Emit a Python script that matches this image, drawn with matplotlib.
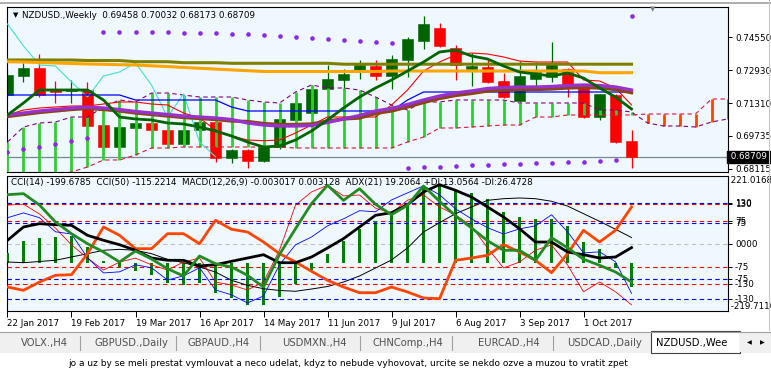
import matplotlib.pyplot as plt
import numpy as np
from matplotlib.patches import Rectangle

# weekly NZDUSD bars, first bar = 22 Jan 2017
opens = [0.71722, 0.72648, 0.73038, 0.72014, 0.71917, 0.71966, 0.70259, 0.69186, 0.70113, 0.70357,
         0.70015, 0.69333, 0.70015, 0.70405, 0.68650, 0.69040, 0.68504, 0.69186, 0.70503, 0.70844,
         0.72014, 0.72453, 0.72843, 0.73136, 0.72648, 0.73429, 0.74355, 0.74989, 0.74014, 0.72990,
         0.73087, 0.72405, 0.71429, 0.72502, 0.72600, 0.72990, 0.72063, 0.70649, 0.71722, 0.69458]
highs = [0.72941, 0.73282, 0.73721, 0.72405, 0.72453, 0.72356, 0.70357, 0.70259, 0.70454, 0.70454,
         0.70113, 0.70113, 0.70503, 0.70454, 0.69089, 0.69089, 0.69235, 0.70600, 0.71478, 0.72209,
         0.73185, 0.72990, 0.73429, 0.73429, 0.73672, 0.74550, 0.75574, 0.75233, 0.74160, 0.73770,
         0.73429, 0.72795, 0.73380, 0.73331, 0.74306, 0.73038, 0.72112, 0.71771, 0.71771, 0.70032]
lows = [0.71624, 0.72356, 0.71624, 0.71332, 0.71332, 0.70162, 0.69137, 0.69137, 0.70015, 0.69967,
        0.69284, 0.69235, 0.69918, 0.68455, 0.68406, 0.68162, 0.68455, 0.69089, 0.70454, 0.70795,
        0.71966, 0.71966, 0.72502, 0.72453, 0.72014, 0.72600, 0.73965, 0.74062, 0.72453, 0.72161,
        0.72307, 0.71576, 0.71380, 0.71966, 0.72356, 0.71624, 0.70600, 0.70503, 0.69381, 0.68173]
closes = [0.72697, 0.73038, 0.71722, 0.71868, 0.72014, 0.70210, 0.69186, 0.70162, 0.70357, 0.70015,
          0.69333, 0.70015, 0.70405, 0.68650, 0.69040, 0.68504, 0.69186, 0.70552, 0.71332, 0.72014,
          0.72502, 0.72746, 0.73185, 0.72648, 0.73477, 0.74452, 0.75184, 0.74111, 0.73185, 0.73136,
          0.72356, 0.71624, 0.72648, 0.72843, 0.73282, 0.72209, 0.70649, 0.71771, 0.69430, 0.68709]

# parabolic SAR
sar = [0.68943, 0.69089, 0.69186, 0.69333, 0.69479, 0.69611, 0.74808, 0.74808, 0.74779, 0.74779,
       0.74779, 0.74760, 0.74730, 0.74730, 0.74711, 0.74682, 0.74648, 0.74599, 0.74550, 0.74487,
       0.74438, 0.74389, 0.74340, 0.74292, 0.74243, 0.68162, 0.68196, 0.68226, 0.68260, 0.68294,
       0.68309, 0.68343, 0.68357, 0.68392, 0.68406, 0.68440, 0.68470, 0.68489, 0.68538, 0.75574]

# moving averages
ma_olive = [0.73429, 0.73429, 0.73429, 0.73429, 0.73429, 0.73404, 0.73404, 0.73404, 0.73346, 0.73346,
            0.73346, 0.73297, 0.73297, 0.73297, 0.73268, 0.73268, 0.73268, 0.73268, 0.73268, 0.73268,
            0.73268, 0.73224, 0.73224, 0.73224, 0.73224, 0.73224, 0.73224, 0.73224, 0.73224, 0.73224,
            0.73224, 0.73224, 0.73224, 0.73224, 0.73224, 0.73224, 0.73224, 0.73224, 0.73224, 0.73224]
ma_orange = [0.73346, 0.73331, 0.73307, 0.73282, 0.73258, 0.73233, 0.73219, 0.73199, 0.73185, 0.73146,
             0.73107, 0.73068, 0.73024, 0.72985, 0.72946, 0.72907, 0.72868, 0.72868, 0.72868, 0.72868,
             0.72868, 0.72868, 0.72868, 0.72868, 0.72892, 0.72892, 0.72892, 0.72892, 0.72892, 0.72892,
             0.72892, 0.72892, 0.72892, 0.72892, 0.72892, 0.72892, 0.72892, 0.72809, 0.72809, 0.72809]
ma_purple = [0.70747, 0.70844, 0.70942, 0.71015, 0.71088, 0.71137, 0.71088, 0.71015, 0.70917, 0.70844,
             0.70771, 0.70698, 0.70649, 0.70600, 0.70527, 0.70357, 0.70259, 0.70210, 0.70210, 0.70235,
             0.70381, 0.70552, 0.70722, 0.70942, 0.71064, 0.71259, 0.71478, 0.71673, 0.71819, 0.71917,
             0.72039, 0.72088, 0.72112, 0.72112, 0.72136, 0.72185, 0.72210, 0.72185, 0.72112, 0.71966]
ma_brown = [0.70674, 0.70771, 0.70869, 0.70942, 0.71015, 0.71064, 0.71015, 0.70942, 0.70844, 0.70771,
            0.70698, 0.70625, 0.70576, 0.70527, 0.70454, 0.70430, 0.70332, 0.70284, 0.70284, 0.70308,
            0.70454, 0.70552, 0.70600, 0.70820, 0.70942, 0.71137, 0.71356, 0.71551, 0.71698, 0.71795,
            0.71917, 0.71966, 0.71990, 0.71990, 0.72015, 0.72063, 0.72088, 0.72063, 0.71990, 0.71834]
ma_green = [0.70747, 0.71332, 0.71966, 0.71966, 0.71966, 0.71966, 0.71478, 0.70649, 0.70552, 0.70503,
            0.70357, 0.70308, 0.70162, 0.69967, 0.69723, 0.69430, 0.69186, 0.69235, 0.69528, 0.69967,
            0.70503, 0.71088, 0.71624, 0.72063, 0.72453, 0.72892, 0.73331, 0.73819, 0.73916, 0.73624,
            0.73477, 0.73136, 0.72843, 0.72746, 0.72648, 0.72795, 0.72551, 0.72063, 0.71624, 0.71039]

# ichimoku
tenkan = [0.70747, 0.70990, 0.71088, 0.71137, 0.71186, 0.71186, 0.71283, 0.71381, 0.71381, 0.71283,
          0.71234, 0.70844, 0.70600, 0.70015, 0.69723, 0.69527, 0.69494, 0.69527, 0.69869, 0.70259,
          0.70649, 0.70649, 0.70649, 0.70649, 0.71234, 0.71966, 0.72892, 0.73331, 0.73672, 0.73770,
          0.73721, 0.73575, 0.73380, 0.73331, 0.73331, 0.73331, 0.72453, 0.72405, 0.72063, 0.71234]
kijun = [0.71722, 0.71722, 0.71722, 0.71722, 0.71722, 0.71722, 0.71722, 0.71722, 0.71478, 0.71478,
         0.71478, 0.71478, 0.71478, 0.71478, 0.71137, 0.70942, 0.70942, 0.70942, 0.70942, 0.70942,
         0.70942, 0.70942, 0.70942, 0.70942, 0.70942, 0.71478, 0.71868, 0.71868, 0.71868, 0.71868,
         0.71868, 0.71868, 0.71868, 0.71868, 0.71868, 0.71868, 0.71868, 0.71868, 0.71868, 0.71868]
span_p = [0.69430, 0.70162, 0.70357, 0.70405, 0.70649, 0.70649, 0.71137, 0.71478, 0.71381, 0.71819,
          0.71819, 0.71722, 0.71624, 0.71624, 0.71624, 0.71478, 0.71381, 0.71332, 0.71868, 0.72210,
          0.72063, 0.72063, 0.71966, 0.71624, 0.71234, 0.70991, 0.71381, 0.71381, 0.71478, 0.71478,
          0.71478, 0.71478, 0.71332, 0.71332, 0.71332, 0.71332, 0.71332, 0.70991, 0.70991, 0.70893,
          0.70357, 0.70210, 0.70210, 0.70162, 0.70405, 0.70552]
span_r = [0.67334, 0.67480, 0.67675, 0.67821, 0.67967, 0.68211, 0.68553, 0.68553, 0.68796, 0.69138,
          0.69138, 0.69186, 0.69186, 0.69186, 0.69186, 0.69186, 0.69186, 0.69186, 0.69138, 0.69138,
          0.69138, 0.69138, 0.69138, 0.69138, 0.69138, 0.69430, 0.69674, 0.70113, 0.70113, 0.70162,
          0.70210, 0.70259, 0.70259, 0.70649, 0.70649, 0.70747, 0.70747, 0.70747, 0.70747, 0.70747,
          0.70795, 0.70795, 0.70795, 0.70795, 0.71527, 0.71527]

# lower window
cci14 = [126, 129, 97, 51, -4, -47, -86, -60, -47, -69,
         -86, -60, -47, -125, -135, -151, -125, -21, 126, 169,
         191, 156, 159, 116, 100, 142, 159, 120, 94, 58,
         -14, -79, -60, -21, -4, -69, -157, -125, -157, -199.6785]
cci50 = [89, 102, 89, 51, 45, -19, -60, -57, -38, -46,
         -79, -68, -46, -106, -119, -141, -122, -38, 16, 37,
         67, 86, 108, 105, 137, 156, 175, 151, 113, 86,
         62, 45, 59, 67, 97, 51, -6, -3, -30, -115.2214]
macd_main = [0.00124, 0.00266, 0.00307, 0.00319, 0.00332, 0.00189, 0.00017, -0.00053, -0.00107, -0.00157,
             -0.00248, -0.00273, -0.00248, -0.00373, -0.00439, -0.00522, -0.00522, -0.00426, -0.00261, -0.00094,
             0.00112, 0.00266, 0.00422, 0.00514, 0.00609, 0.00713, 0.00928, 0.00961, 0.00899, 0.00866,
             0.00795, 0.00630, 0.00568, 0.00547, 0.00539, 0.00456, 0.00257, 0.00174, -0.00060, -0.003017]
macd_signal = [0.00009, 0.00000, 0.00015, 0.00030, 0.00071, 0.00112, 0.00154, 0.00166, 0.00154, 0.00112,
               0.00042, 0.00000, -0.00053, -0.00116, -0.00219, -0.00281, -0.00323, -0.00345, -0.00355, -0.00327,
               -0.00296, -0.00240, -0.00165, -0.00066, 0.00034, 0.00183, 0.00381, 0.00497, 0.00609, 0.00692,
               0.00775, 0.00795, 0.00804, 0.00795, 0.00763, 0.00704, 0.00609, 0.00514, 0.00415, 0.003128]
adx = [20.52, 22.90, 23.49, 23.31, 23.20, 21.41, 20.52, 19.73, 18.73, 17.35,
       16.94, 16.94, 15.92, 16.15, 16.76, 17.35, 17.94, 16.51, 16.51, 17.53,
       19.14, 20.81, 22.90, 24.99, 25.46, 26.89, 29.16, 30.47, 29.46, 28.26,
       26.48, 24.69, 22.59, 20.21, 20.21, 18.43, 17.94, 17.35, 17.53, 19.2064]
di_plus = [28.68, 28.86, 26.83, 23.79, 21.70, 19.91, 18.43, 16.64, 18.60, 17.17,
           15.44, 14.13, 17.71, 16.33, 15.74, 14.26, 12.16, 17.98, 22.59, 27.07,
           30.36, 27.67, 29.75, 26.96, 25.10, 26.78, 30.23, 27.50, 24.87, 22.72,
           20.45, 18.73, 18.73, 16.94, 20.98, 19.19, 17.12, 16.05, 14.85, 13.0564]
di_minus = [12.16, 11.57, 13.06, 14.26, 14.37, 18.12, 22.90, 21.41, 19.02, 19.02,
            21.70, 21.70, 19.91, 24.10, 22.49, 22.00, 20.21, 18.12, 16.64, 14.97,
            13.36, 12.16, 11.14, 11.14, 12.16, 11.27, 10.20, 10.07, 16.94, 17.35,
            17.84, 19.73, 18.43, 16.94, 14.72, 18.12, 22.31, 20.21, 22.31, 26.4728]

price_ticks = [0.74550, 0.72930, 0.71310, 0.69735, 0.68115]
date_pos = [0, 4, 8, 12, 16, 20, 24, 28, 32, 36]
date_labels = ["22 Jan 2017", "19 Feb 2017", "19 Mar 2017", "16 Apr 2017", "14 May 2017",
               "11 Jun 2017", "9 Jul 2017", "6 Aug 2017", "3 Sep 2017", "1 Oct 2017"]
tabs = ["VOLX.,H4", "GBPUSD.,Daily", "GBPAUD.,H4", "USDMXN.,H4", "CHNComp.,H4",
        "EURCAD.,H4", "USDCAD.,Daily"]

W, H = 771, 372
plt.rcParams["font.family"] = "DejaVu Sans"
fig = plt.figure(figsize=(W / 100, H / 100), dpi=100)
fig.patch.set_facecolor("white")
BG = "#F0F8FF"
FS = 6.3


def rect(x0, y0, x1, y1):
    # pixel box -> figure fraction
    return [x0 / W, 1 - y1 / H, (x1 - x0) / W, (y1 - y0) / H]


n = len(closes)
x = np.arange(n)
XL = (-0.031, 45.03)

# ---------------- main window
ax = fig.add_axes(rect(7, 7, 728, 172))
ax.set_facecolor(BG)
ax.set_xlim(*XL)
ax.set_ylim(0.67967, 0.76013)

o = np.array(opens)
c = np.array(closes)
col = np.where(c >= o, "#006400", "#FF0000")
ax.axhline(closes[-1], color="#778899", lw=0.9, zorder=1)
ax.vlines(x, lows, highs, colors=col, lw=0.9, zorder=2)
ax.bar(x, np.abs(c - o), bottom=np.minimum(o, c), width=0.68, color=col,
       edgecolor=col, lw=0.4, zorder=2)

# cloud
sp = np.array(span_p)
sr = np.array(span_r)
cx = np.arange(len(sp))
ccol = np.where(sp > sr, "#32CD32", "#FF4500")
ax.vlines(cx, np.minimum(sp, sr), np.maximum(sp, sr), colors=ccol, lw=2.0, zorder=3)
ax.plot(cx, sp, color="#800080", lw=0.8, dashes=(4, 3), zorder=3)
ax.plot(cx, sr, color="#DC143C", lw=0.8, dashes=(4, 3), zorder=3)

# lagging span
ax.plot(x[:n - 26], closes[26:], color="#40E0D0", lw=0.8, zorder=4)
ax.plot(x, tenkan, color="#FF0000", lw=0.8, zorder=4)
ax.plot(x, kijun, color="#0000FF", lw=0.9, zorder=4)
ax.plot(x, ma_olive, color="#808000", lw=2.2, zorder=4)
ax.plot(x, ma_orange, color="#FFA500", lw=2.2, zorder=4)
ax.plot(x, ma_brown, color="#8B4513", lw=2.4, zorder=4)
ax.plot(x, ma_purple, color="#9932CC", lw=2.4, zorder=4)
ax.plot(x, ma_green, color="#006400", lw=2.0, zorder=5)
ax.scatter(x, sar, s=11, color="#8A2BE2", linewidths=0, zorder=6)

ax.set_xticks([])
ax.yaxis.tick_right()
ax.set_yticks(price_ticks)
ax.set_yticklabels(["%.5f" % p for p in price_ticks])
ax.tick_params(axis="y", length=3, width=0.7, pad=2, labelsize=FS)
for s in ax.spines.values():
    s.set_linewidth(0.8)
ax.text(1.0, closes[-1], " %.5f " % closes[-1], transform=ax.get_yaxis_transform(),
        color="white", fontsize=FS, va="center", ha="left",
        bbox=dict(boxstyle="square,pad=0.15", fc="black", ec="black"), zorder=10)
ax.text(6 / 721, 0.95, "\u25bc", transform=ax.transAxes, fontsize=5, va="center")
ax.text(15 / 721, 0.95, "NZDUSD.,Weekly  0.69458 0.70032 0.68173 0.68709",
        transform=ax.transAxes, fontsize=FS, va="center")

# ---------------- lower window (several overlaid scales)
a1 = fig.add_axes(rect(7, 176, 728, 311))
a1.set_facecolor(BG)
a1.set_xlim(*XL)
a1.set_ylim(-219.711, 221.0168)
for s in a1.spines.values():
    s.set_linewidth(0.8)

am = a1.twinx()
am.set_ylim(-0.0060, 0.01077)
ac = a1.twinx()
ac.set_ylim(-219.711, 221.0168)
ab = a1.twinx()
ab.set_ylim(-162.7, 201.6)
ad = a1.twinx()
ad.set_ylim(7.87, 32.02)
for a in (am, ac, ad):
    a.yaxis.set_visible(False)
for a in (am, ac, ab, ad):
    for s in a.spines.values():
        s.set_visible(False)

# levels
for lv in (130, 75, -75, -130):
    a1.axhline(lv, color="#FF0000", lw=0.8, dashes=(4, 3))
    ab.axhline(lv, color="#0000FF", lw=0.8, dashes=(4, 3))
a1.axhline(0, color="#C0C0C0", lw=0.8, dashes=(4, 3))

am.bar(x, macd_main, width=0.16, color="#008000")
am.plot(x, macd_signal, color="black", lw=0.7)
ac.plot(x, cci14, color="#FF0000", lw=0.6)
ab.plot(x, cci50, color="#0000FF", lw=0.6)
ad.plot(x, di_minus, color="#FF4500", lw=2.0)
ad.plot(x, adx, color="black", lw=2.0)
ad.plot(x, di_plus, color="#228B22", lw=2.0)

a1.yaxis.tick_right()
a1.set_yticks([130, 75, 0, -75, -130])
a1.set_yticklabels(["130", "75", "0000", "-75", "-130"])
ab.set_yticks([130, 75, -75, -130])
ab.set_yticklabels(["130", "75", "-75", "-130"])
for a in (a1, ab):
    a.tick_params(axis="y", length=3, width=0.7, pad=2, labelsize=FS)
yt = a1.get_yaxis_transform()
a1.text(1.0, 221.0168, " 221.0168", transform=yt, fontsize=FS, va="top", ha="left")
a1.text(1.0, -219.711, " -219.7110", transform=yt, fontsize=FS, va="bottom", ha="left")

a1.set_xticks(date_pos)
a1.set_xticklabels(date_labels, ha="left")
a1.tick_params(axis="x", length=4, width=0.7, pad=1.5, labelsize=FS)
a1.text(4 / 721, 0.95, "CCI(14) -199.6785  CCI(50) -115.2214  MACD(12,26,9) -0.003017 0.003128  "
        "ADX(21) 19.2064 +DI:13.0564 -DI:26.4728", transform=a1.transAxes,
        fontsize=FS, va="center", zorder=10)

# ---------------- tab bar and status text
ov = fig.add_axes([0, 0, 1, 1])
ov.set_xlim(0, W)
ov.set_ylim(H, 0)
ov.axis("off")
ov.plot([0, W], [3, 3], color="#A0A0A0", lw=1.2)
ov.plot([769, 769], [0, 330], color="#C8C8C8", lw=0.8)
ov.text(653, 9, "\u25bc", color="#808080", fontsize=5, ha="center", va="center")
ov.add_patch(Rectangle((0, 332), W, 21, fc="#F0F0F0", ec="none"))
ov.plot([0, W], [332, 332], color="#A0A0A0", lw=0.8)
tab_x = [44, 131, 219, 314, 408, 509, 604]
sep_x = [80, 176, 260, 360, 452, 553]
for tx, name in zip(tab_x, tabs):
    ov.text(tx, 343, name, fontsize=7.2, color="#505050", ha="center", va="center")
for sx in sep_x:
    ov.plot([sx, sx], [336, 350], color="#A0A0A0", lw=0.8)
ov.add_patch(Rectangle((651, 331), 89, 22, fc="white", ec="#404040", lw=0.8))
ov.text(656, 343, "NZDUSD.,Wee", fontsize=7.2, color="black", ha="left", va="center")
ov.add_patch(Rectangle((740, 333), 31, 19, fc="#F0F0F0", ec="none"))
ov.text(749, 343, "\u25c0", fontsize=4.5, color="black", ha="center", va="center")
ov.text(762, 343, "\u25b6", fontsize=4.5, color="black", ha="center", va="center")
ov.text(348, 364, "jo a uz by se meli prestat vymlouvat a neco udelat, kdyz to nebude vyhovovat, "
        "urcite se nekdo ozve a muzou to vratit zpet", fontsize=6.5,
        family=["Liberation Sans Narrow", "DejaVu Sans"], ha="center", va="center")

fig.savefig("out.png", dpi=100, facecolor="white")
